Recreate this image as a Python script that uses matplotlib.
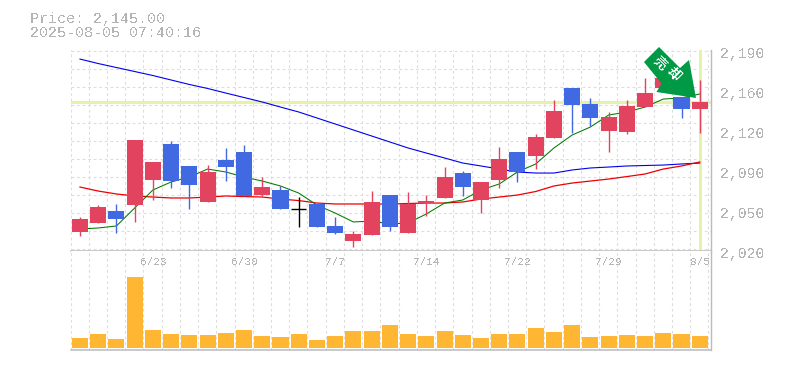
import matplotlib
matplotlib.use('Agg')
import matplotlib.pyplot as plt
from matplotlib.patches import Polygon
import numpy as np

plt.rcParams['text.antialiased'] = False

W, H = 785, 370

price_text = 'Price: 2,145.00'
time_text = '2025-08-05 07:40:16'
last_price = 2145.0

opens = [2034.9, 2042.5, 2052.7, 2057.8, 2079.1, 2109.7, 2091.0, 2060.4, 2096.1, 2102.9, 2066.3, 2070.6,
         2054.7, 2058.7, 2040.0, 2027.2, 2032.3, 2066.3, 2034.0, 2059.5, 2063.8, 2085.0, 2062.1, 2079.1,
         2102.9, 2099.5, 2114.8, 2157.3, 2143.7, 2120.7, 2119.9, 2141.1, 2157.3, 2149.6, 2139.4]
closes = [2045.9, 2056.1, 2045.9, 2113.1, 2094.4, 2078.2, 2074.8, 2085.9, 2090.1, 2065.5, 2073.1, 2054.4,
          2054.7, 2039.1, 2034.0, 2033.2, 2060.4, 2039.1, 2058.7, 2061.2, 2081.6, 2073.1, 2077.4, 2096.9,
          2085.9, 2115.6, 2137.7, 2142.8, 2131.8, 2132.6, 2142.0, 2153.0, 2165.8, 2139.4, 2145.4]
highs = [2047.6, 2057.8, 2058.7, 2113.1, 2094.4, 2112.2, 2091.0, 2091.8, 2106.3, 2108.8, 2081.6, 2074.0,
         2064.6, 2058.7, 2047.6, 2035.7, 2069.7, 2066.3, 2068.9, 2066.3, 2090.1, 2086.7, 2077.4, 2107.1,
         2102.9, 2118.2, 2147.1, 2157.3, 2148.8, 2136.9, 2147.1, 2165.8, 2167.5, 2149.6, 2164.1]
lows = [2031.5, 2042.5, 2034.0, 2043.4, 2062.1, 2072.3, 2054.4, 2060.4, 2078.2, 2065.5, 2065.5, 2054.4,
        2039.1, 2039.1, 2033.2, 2022.1, 2032.3, 2035.7, 2034.0, 2048.5, 2063.8, 2065.5, 2051.0, 2072.3,
        2077.4, 2088.4, 2114.8, 2119.0, 2125.0, 2102.9, 2118.2, 2141.1, 2157.3, 2131.8, 2119.0]

ma_short = [2037.4, 2038.3, 2040.0, 2055.3, 2070.6, 2077.4, 2081.6, 2088.4, 2085.9, 2081.6, 2078.2, 2074.0,
            2068.0, 2057.8, 2051.0, 2043.4, 2044.2, 2041.7, 2042.5, 2050.2, 2059.5, 2062.1, 2070.6, 2075.7,
            2085.9, 2092.7, 2106.3, 2117.3, 2124.1, 2134.3, 2136.9, 2141.1, 2147.9, 2148.8, 2152.2]
ma_mid = [2073.1, 2069.7, 2067.2, 2065.5, 2064.6, 2063.8, 2063.8, 2064.6, 2065.5, 2065.0, 2064.6, 2062.9,
          2061.6, 2059.5, 2058.7, 2058.7, 2058.7, 2058.7, 2059.1, 2059.5, 2059.5, 2060.4, 2062.9, 2064.6,
          2066.3, 2069.3, 2074.0, 2076.5, 2078.2, 2079.9, 2082.0, 2084.2, 2088.4, 2091.0, 2094.4]
ma_long = [2181.9, 2178.1, 2174.7, 2171.3, 2167.9, 2164.1, 2160.3, 2156.9, 2153.0, 2149.2, 2145.4, 2141.1,
           2136.9, 2131.8, 2126.7, 2121.6, 2116.5, 2111.4, 2106.3, 2102.0, 2097.8, 2093.5, 2091.0, 2088.4,
           2085.9, 2085.0, 2085.0, 2087.6, 2089.3, 2090.1, 2091.0, 2091.4, 2091.8, 2092.7, 2093.5]

volumes = [10, 14, 9, 71, 18, 14, 13, 13, 15, 18, 12, 11, 14, 8, 12, 17, 17, 23,
           14, 12, 17, 13, 10, 14, 14, 20, 16, 23, 11, 12, 13, 12, 15, 14, 12]

y_ticks = [2190, 2156, 2122, 2088, 2054, 2020]
y_labels = ['2,190', '2,160', '2,120', '2,090', '2,050', '2,020']
date_pos = [4, 9, 14, 19, 24, 29, 34]
date_labels = ['6/23', '6/30', '7/7', '7/14', '7/22', '7/29', '8/5']

RED = '#e2435f'
BLUE = '#4169e1'
GRID = '#dddddd'
FRAME = '#bbbbbb'
TEXT = '#b4b4b4'
HILITE = '#e6f2a8'


def axes_px(left, top, right, bottom):
    return [left / W, 1 - bottom / H, (right - left) / W, (bottom - top) / H]


fig = plt.figure(figsize=(W / 100, H / 100), dpi=100)
ax = fig.add_axes(axes_px(70.5, 50, 710.5, 250.5))
ax2 = fig.add_axes(axes_px(70.5, 250.5, 710.5, 350))

xs = np.arange(len(closes))
x_grid = np.arange(len(closes) + 1) - 0.52

for a in (ax, ax2):
    a.set_xlim(-0.52, 34.59)
    a.set_xticks(x_grid)
    a.set_xticklabels([])
    a.tick_params(length=0)
    a.grid(True, axis='x', color=GRID, linestyle=(0, (2.5, 2.5)), linewidth=0.8)
    a.set_axisbelow(True)
    a.spines['top'].set_visible(False)
    a.spines['left'].set_visible(False)
    a.spines['right'].set_color(FRAME)
    a.spines['bottom'].set_color(FRAME)
    a.spines['right'].set_linewidth(1.0)
    a.spines['bottom'].set_linewidth(1.1)

# price panel
ax.set_ylim(2019.15, 2189.6)
ax.set_yticks(2188.7 - 15.3 * np.arange(12))
ax.set_yticklabels([])
ax.grid(True, axis='y', color=GRID, linestyle=(0, (2.5, 2.5)), linewidth=0.8)

ax.axhline(last_price, color=HILITE, linewidth=2.2, zorder=1)
ax.axvline(xs[-1], color=HILITE, linewidth=2.2, zorder=1)

ax.plot(xs, ma_long, color='#0000ee', linewidth=0.8, zorder=2)
ax.plot(xs, ma_mid, color='#ee0000', linewidth=0.9, zorder=2)
ax.plot(xs, ma_short, color='#007a00', linewidth=0.75, zorder=2)

for i in xs:
    if closes[i] == opens[i]:
        color = 'black'
    elif closes[i] > opens[i]:
        color = RED
    else:
        color = BLUE
    ax.vlines(i, lows[i], highs[i], color=color, linewidth=1.0, zorder=3)
    if color == 'black':
        ax.hlines(closes[i], i - 0.42, i + 0.42, color=color, linewidth=1.0, zorder=3)
    else:
        ax.bar(i, abs(closes[i] - opens[i]), bottom=min(opens[i], closes[i]), width=0.88, color=color, zorder=3)

for val, lab in zip(y_ticks, y_labels):
    ax.annotate(lab, (1, val), xycoords=('axes fraction', 'data'), xytext=(9.5, -4.5),
                textcoords='offset pixels', va='center', ha='left', family='Liberation Mono',
                fontsize=10.6, color=TEXT, annotation_clip=False)

# volume panel
ax2.set_ylim(-2, 97.5)
ax2.set_yticks([])
ax2.bar(xs, volumes, width=0.88, color='#ffb733', zorder=3)
for pos, lab in zip(date_pos, date_labels):
    ax2.annotate(lab, (pos, 1), xycoords=('data', 'axes fraction'), xytext=(0, -11.5),
                 textcoords='offset pixels', va='center', ha='center', family='Liberation Mono',
                 fontsize=8, color=TEXT)

# header text
fig.text(30 / W, 1 - 18.5 / H, price_text, family='Liberation Mono', fontsize=10.8, color=TEXT, va='center')
fig.text(30 / W, 1 - 33 / H, time_text, family='Liberation Mono', fontsize=10.8, color=TEXT, va='center')


# sell arrow on top of the last candles
def px(x, y):
    return (x / W, 1 - y / H)


arrow_pts = [(659, 47), (644, 62), (661.5, 83.5), (656.5, 92), (696, 98), (689, 60), (680, 68)]
fig.add_artist(Polygon([px(x, y) for x, y in arrow_pts], closed=True, facecolor='#009944',
                       edgecolor='none', transform=fig.transFigure, zorder=10))
fig.text(*px(660, 63), '売', family=['Noto Sans CJK JP', 'DejaVu Sans'], fontsize=9.5, color='white',
         rotation=-45, ha='center', va='center', zorder=11, fontweight='bold')
fig.text(*px(674, 74), '却', family=['Noto Sans CJK JP', 'DejaVu Sans'], fontsize=9.5, color='white',
         rotation=-45, ha='center', va='center', zorder=11, fontweight='bold')

fig.savefig('out.png', dpi=100)
